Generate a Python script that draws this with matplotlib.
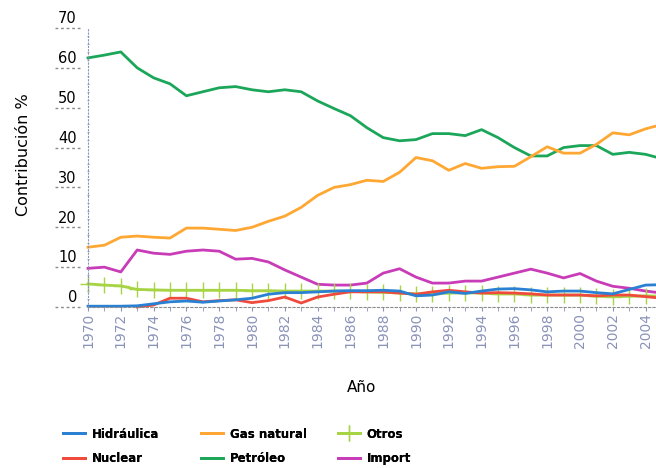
"""Contribución por fuente de energía, 1970-2005."""

import matplotlib

matplotlib.use("Agg")
import matplotlib.pyplot as plt
import numpy as np
from matplotlib.transforms import ScaledTranslation

YEARS = list(range(1970, 2006))

PETROLEO = [62.5, 63.2, 64.0, 60.0, 57.5, 56.0, 53.0, 54.0, 55.0, 55.3, 54.5, 54.0,
            54.5, 54.0, 51.7, 49.8, 48.0, 45.0, 42.5, 41.7, 42.0, 43.5, 43.5, 43.0,
            44.5, 42.5, 40.0, 37.9, 37.9, 40.0, 40.5, 40.5, 38.3, 38.8, 38.3, 37.2]
GAS_NATURAL = [15.0, 15.5, 17.5, 17.8, 17.5, 17.3, 19.8, 19.8, 19.5, 19.2, 20.0, 21.5,
               22.8, 25.0, 28.0, 30.0, 30.7, 31.8, 31.5, 33.8, 37.5, 36.7, 34.3, 36.0,
               34.8, 35.2, 35.3, 37.7, 40.2, 38.6, 38.6, 40.8, 43.7, 43.2, 44.7, 45.8]
IMPORT = [9.7, 10.0, 8.8, 14.3, 13.5, 13.2, 14.0, 14.3, 14.0, 12.0, 12.2, 11.3,
          9.3, 7.5, 5.7, 5.5, 5.5, 6.0, 8.5, 9.6, 7.5, 6.0, 6.0, 6.5,
          6.5, 7.5, 8.5, 9.5, 8.5, 7.3, 8.4, 6.5, 5.2, 4.7, 4.0, 3.5]
OTROS = [5.8, 5.5, 5.3, 4.4, 4.3, 4.2, 4.2, 4.2, 4.2, 4.2, 4.1, 4.1,
         4.0, 4.0, 4.0, 4.0, 3.9, 3.8, 3.7, 3.5, 3.3, 3.3, 3.5, 3.6,
         3.5, 3.3, 3.3, 3.0, 3.0, 3.0, 3.0, 2.7, 2.6, 2.7, 2.8, 2.7]
HIDRAULICA = [0.2, 0.2, 0.2, 0.3, 0.8, 1.3, 1.5, 1.2, 1.5, 1.8, 2.2, 3.2,
              3.6, 3.6, 3.8, 4.0, 4.1, 4.1, 4.2, 4.0, 2.8, 3.0, 3.8, 3.4,
              4.0, 4.5, 4.6, 4.3, 3.8, 4.0, 4.0, 3.6, 3.3, 4.4, 5.5, 5.6]
NUCLEAR = [np.nan, np.nan, np.nan, 0.0, 0.5, 2.2, 2.2, 1.3, 1.6, 1.8, 1.1, 1.6,
           2.5, 1.0, 2.5, 3.2, 3.8, 3.8, 3.8, 3.5, 3.2, 3.8, 4.2, 3.8,
           3.5, 3.6, 3.5, 3.3, 3.0, 3.0, 3.0, 2.8, 3.0, 3.0, 2.6, 2.2]

COLORS = {
    "Hidráulica": "#2a80d2",
    "Nuclear": "#f04a3c",
    "Gas natural": "#ffa733",
    "Petróleo": "#1ca65a",
    "Otros": "#a6d443",
    "Import": "#c83cb8",
}
AXIS_GRAY = "#8c8c8c"
TICK_BLUE = "#8a93b8"
# legend laid out as three single-column blocks (handle x in pixels)
LEGEND_COLUMNS = [(["Hidráulica", "Nuclear"], 52),
                  (["Gas natural", "Petróleo"], 190),
                  (["Otros", "Import"], 327)]


def main() -> None:
    fig = plt.figure(figsize=(6.56, 4.68), dpi=100)
    # axes deliberately runs past the right edge: the original chart is cropped there
    ax = fig.add_axes([88 / 656, 1 - 307 / 468, 574 / 656, 279 / 468])

    series = [
        ("Petróleo", PETROLEO, {}),
        ("Gas natural", GAS_NATURAL, {}),
        ("Import", IMPORT, {}),
        ("Otros", OTROS, {"marker": "+", "markersize": 11, "markeredgewidth": 1.0}),
        ("Nuclear", NUCLEAR, {}),
        ("Hidráulica", HIDRAULICA, {}),
    ]
    lines = {}
    for name, values, extra in series:
        (ln,) = ax.plot(YEARS, values, color=COLORS[name], lw=2.0, label=name,
                        clip_on=False, **extra)
        lines[name] = ln

    ax.set_xlim(1970, 2005)
    ax.set_ylim(0, 70)

    for side in ("top", "right"):
        ax.spines[side].set_visible(False)
    ax.spines["left"].set_linestyle((0, (1, 2)))
    ax.spines["left"].set_color(TICK_BLUE)
    ax.spines["bottom"].set_linestyle((0, (2, 2)))
    ax.spines["bottom"].set_color(AXIS_GRAY)

    # y axis: labels sit above short dotted guide lines left of the axis
    yticks = list(range(0, 71, 10))
    ax.set_yticks(yticks)
    ax.set_yticks(range(0, 71, 2), minor=True)
    ax.tick_params(axis="y", which="major", length=0, pad=8, labelsize=10.5)
    ax.tick_params(axis="y", which="minor", length=2, color=TICK_BLUE, direction="inout")
    offset = ScaledTranslation(0, 1.2 / 72, fig.dpi_scale_trans)
    for lab in ax.get_yticklabels():
        lab.set_verticalalignment("bottom")
        lab.set_transform(lab.get_transform() + offset)
    ax.hlines(yticks, -0.058, -0.01, transform=ax.get_yaxis_transform(),
              colors=AXIS_GRAY, linestyles=(0, (2, 2)), lw=1.0, clip_on=False)

    # x axis: every year ticked, every other year labelled, rotated
    ax.set_xticks(range(1970, 2005, 2))
    ax.set_xticks(YEARS, minor=True)
    ax.tick_params(axis="x", which="both", length=3, color=TICK_BLUE,
                   labelsize=10, labelcolor=TICK_BLUE, pad=1)
    plt.setp(ax.get_xticklabels(), rotation=90)

    ax.set_ylabel("Contribución %", fontsize=11.5)
    ax.yaxis.set_label_coords(-0.1, 0.545)
    fig.text(362 / 656, 1 - 387 / 468, "Año", fontsize=11, ha="center", va="center")

    for names, x_px in LEGEND_COLUMNS:
        leg = fig.legend([lines[n] for n in names], names, loc="upper left",
                         bbox_to_anchor=(x_px / 656, 1 - 417 / 468), frameon=False,
                         handlelength=1.9, labelspacing=0.95, handletextpad=0.55,
                         prop={"weight": "bold", "size": 8.5})
        fig.add_artist(leg)

    fig.savefig("out.png", dpi=100, facecolor="white")
    plt.close(fig)


if __name__ == "__main__":
    main()
